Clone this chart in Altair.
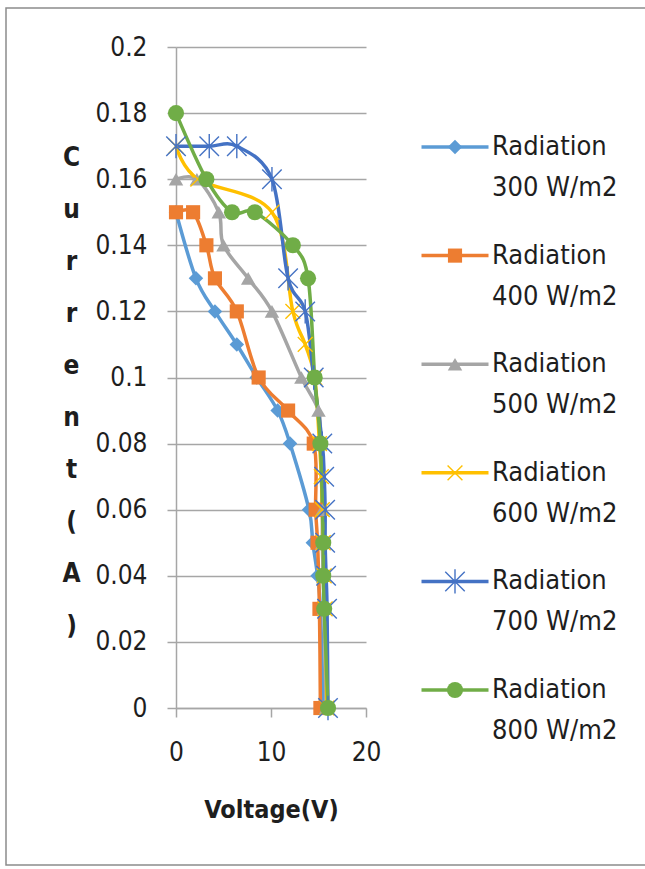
import altair as alt
import pandas as pd

# ---------------- data ----------------
series_names = [
    "Radiation|300 W/m2",
    "Radiation|400 W/m2",
    "Radiation|500 W/m2",
    "Radiation|600 W/m2",
    "Radiation|700 W/m2",
    "Radiation|800 W/m2",
]
series_colors = ["#5B9BD5", "#ED7D31", "#A5A5A5", "#FFC000", "#4472C4", "#70AD47"]

v300 = [0.0, 2.1, 4.1, 6.4, 8.5, 10.7, 12.0, 14.0, 14.4, 14.9, 15.2, 15.5]
i300 = [0.15, 0.13, 0.12, 0.11, 0.10, 0.09, 0.08, 0.06, 0.05, 0.04, 0.03, 0.0]

v400 = [0.0, 1.8, 3.2, 4.1, 6.4, 8.7, 11.8, 14.5, 14.7, 14.9, 15.1, 15.2]
i400 = [0.15, 0.15, 0.14, 0.13, 0.12, 0.10, 0.09, 0.08, 0.06, 0.05, 0.03, 0.0]

v500 = [0.0, 2.2, 4.5, 5.0, 7.6, 10.1, 13.2, 15.0, 15.2, 15.4, 15.4, 15.5, 15.6, 15.8]
i500 = [0.16, 0.16, 0.15, 0.14, 0.13, 0.12, 0.10, 0.09, 0.08, 0.06, 0.05, 0.04, 0.03, 0.0]

v600 = [0.0, 2.3, 10.1, 12.3, 13.6, 14.6, 15.1, 15.3, 15.4, 15.5, 15.6, 15.7, 15.9]
i600 = [0.17, 0.16, 0.15, 0.12, 0.11, 0.10, 0.08, 0.07, 0.06, 0.05, 0.04, 0.03, 0.0]

v700 = [0.0, 3.5, 6.4, 10.1, 11.8, 13.6, 14.5, 15.4, 15.6, 15.7, 15.7, 15.8, 15.9, 16.0]
i700 = [0.17, 0.17, 0.17, 0.16, 0.13, 0.12, 0.10, 0.08, 0.07, 0.06, 0.05, 0.04, 0.03, 0.0]

v800 = [0.0, 3.2, 5.9, 8.3, 12.3, 13.9, 14.6, 15.2, 15.5, 15.5, 15.6, 16.0]
i800 = [0.18, 0.16, 0.15, 0.15, 0.14, 0.13, 0.10, 0.08, 0.05, 0.04, 0.03, 0.0]

x_ticks = [0, 10, 20]
y_ticks = [0, 0.02, 0.04, 0.06, 0.08, 0.1, 0.12, 0.14, 0.16, 0.18, 0.2]
y_title_letters = ["C", "u", "r", "r", "e", "n", "t", "(", "A", ")"]

# ---------------- styling ----------------
FONT = "DejaVu Sans Condensed, Liberation Sans"
GRID = "#A6A6A6"
TEXT = "#1E1E1E"

# marker per series: (shape, size, filled)
markers = [
    ("diamond", 210, True),
    ("square", 200, True),
    ("triangle-up", 210, True),
    ("M-1,-1L1,1M-1,1L1,-1", 220, False),
    ("M-1,-1L1,1M-1,1L1,-1M0,-1.25L0,1.25", 380, False),
    ("circle", 260, True),
]

rows = []
for name, vs, cs in zip(series_names,
                        [v300, v400, v500, v600, v700, v800],
                        [i300, i400, i500, i600, i700, i800]):
    for k, (v, c) in enumerate(zip(vs, cs)):
        rows.append({"series": name, "V": v, "I": c, "k": k})
df = pd.DataFrame(rows)
legend_df = pd.DataFrame({"series": series_names})

# stacked vertical y title: one letter per line (repeated letters kept distinct)
title_lines = []
for letter in y_title_letters:
    txt = letter
    while txt in title_lines:
        txt = "\u200b" + txt
    title_lines.append(txt)

x_enc = alt.X(
    "V:Q",
    scale=alt.Scale(domain=[0, 20], nice=False, zero=False),
    axis=alt.Axis(
        values=x_ticks, grid=False, title="Voltage(V)",
        labelFont=FONT, labelFontSize=26, labelColor=TEXT, labelPadding=22,
        titleFont=FONT, titleFontSize=25, titleFontWeight="bold", titleColor=TEXT,
        titlePadding=32,
        domainColor=GRID, domainWidth=1.5, tickColor=GRID, tickWidth=1.5, tickSize=9,
        labelFlush=False,
    ),
)
y_enc = alt.Y(
    "I:Q",
    scale=alt.Scale(domain=[0, 0.2], nice=False),
    axis=alt.Axis(
        values=y_ticks, format="~g", grid=True, gridColor=GRID, gridWidth=1.5,
        labelFont=FONT, labelFontSize=26, labelColor=TEXT, labelPadding=20,
        domainColor=GRID, domainWidth=1.5, tickColor=GRID, tickWidth=1.5, tickSize=9,
        title=title_lines, titleAngle=0, titleFont=FONT, titleFontSize=26,
        titleFontWeight="bold", titleColor=TEXT, titleLineHeight=52,
        titleAlign="center", titleBaseline="middle", titleX=-105, titleY=110,
        labelFlush=False,
    ),
)
color_enc = alt.Color("series:N", scale=alt.Scale(domain=series_names, range=series_colors), legend=None)

base = alt.Chart(df)

lines = base.mark_line(interpolate="cardinal", strokeWidth=3.5).encode(
    x=x_enc, y=y_enc, color=color_enc, order="k:Q"
)

# legend rows on their own point scale
y_leg = alt.Y("series:N", scale=alt.Scale(type="point", domain=series_names, range=[100, 643], padding=0), axis=None)
leg_base = alt.Chart(legend_df)

point_layers = []
legend_points = []
for name, (shape, size, filled) in zip(series_names, markers):
    if filled:
        props = dict(shape=shape, size=size, filled=True, opacity=1)
    else:
        props = dict(shape=shape, size=size, filled=False, opacity=1, strokeWidth=1.4)
    point_layers.append(
        base.transform_filter(alt.datum.series == name).mark_point(**props).encode(
            x=x_enc, y=y_enc, color=color_enc
        )
    )
    legend_points.append(
        leg_base.transform_filter(alt.datum.series == name).mark_point(clip=False, **props).encode(
            x=alt.value(279), y=y_leg, color=color_enc
        )
    )

legend_rules = leg_base.mark_rule(strokeWidth=3.5, clip=False).encode(
    x=alt.value(245.5), x2=alt.value(312.5), y=y_leg, color=color_enc
)
legend_text = leg_base.mark_text(
    lineBreak="|", align="left", baseline="middle", lineHeight=41,
    font=FONT, fontSize=27, color=TEXT, clip=False,
).encode(x=alt.value(316), y=y_leg, text="series:N")

border = alt.Chart(pd.DataFrame({"a": [0]})).mark_rect(
    fill=None, stroke="#8C8C8C", strokeWidth=1.5, clip=False
).encode(
    x=alt.value(-170), x2=alt.value(500), y=alt.value(-39), y2=alt.value(818)
)

main = alt.layer(lines, *point_layers)
legend = alt.layer(legend_rules, *legend_points, legend_text)

chart = alt.layer(border, main, legend).resolve_scale(y="independent").properties(
    width=190, height=661,
    autosize=alt.AutoSizeParams(type="none"),
    padding={"left": 176, "top": 47, "right": 279, "bottom": 161},
    background="white",
).configure_view(stroke=None)

chart.save("out.html", embed_options={"renderer": "svg", "actions": False})
